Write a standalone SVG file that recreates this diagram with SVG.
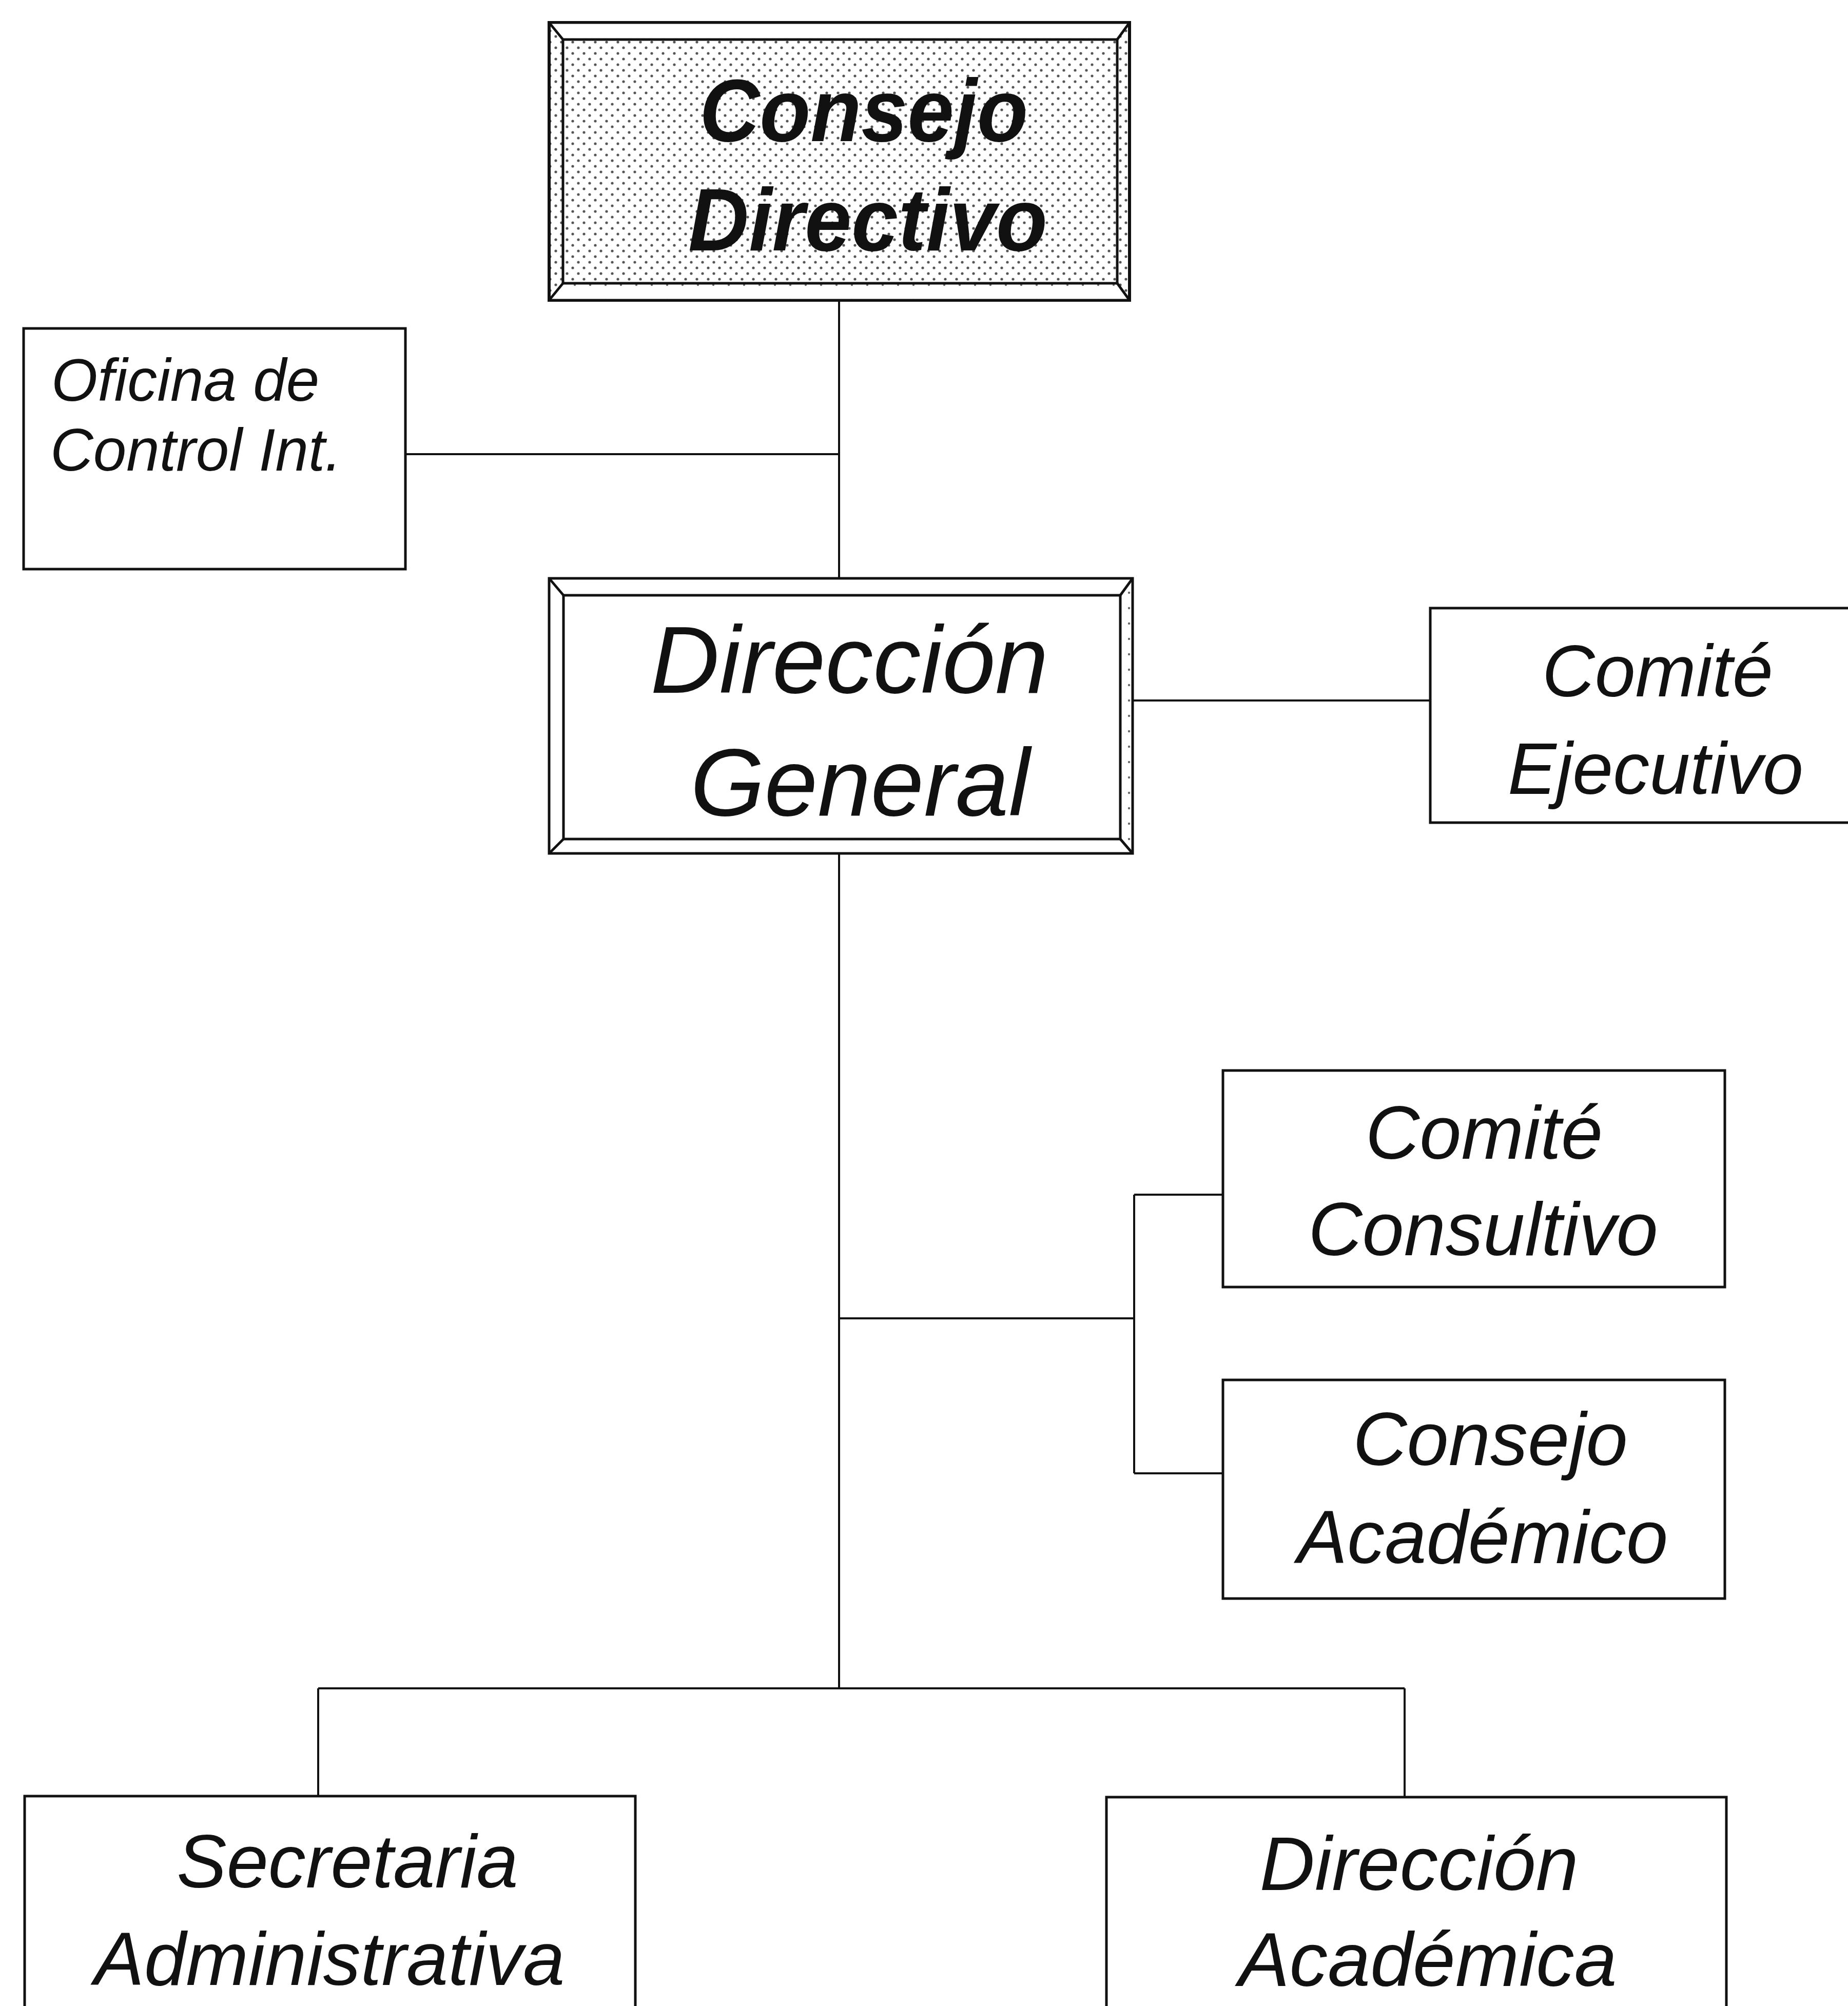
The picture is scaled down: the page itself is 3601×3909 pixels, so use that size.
<svg xmlns="http://www.w3.org/2000/svg" width="3601" height="3909" viewBox="0 0 3601 3909">
<style>
.box{fill:#fff;stroke:#111;stroke-width:5}
.ln{stroke:#111;stroke-width:4;fill:none}
.bev{stroke:#111;stroke-width:5;fill:none}
.t{font-family:"Liberation Sans",Arial,sans-serif;font-style:italic;fill:#111}
.tb{font-family:"Liberation Sans",Arial,sans-serif;font-style:italic;font-weight:bold;fill:#111}
</style>
<defs>
<pattern id="dots" width="22" height="22" patternUnits="userSpaceOnUse">
<rect width="22" height="22" fill="#fff"/>
<circle cx="5" cy="5" r="2.6" fill="#555"/>
<circle cx="16" cy="16" r="2.6" fill="#555"/>
</pattern>
<pattern id="ldots" width="30" height="30" patternUnits="userSpaceOnUse">
<rect width="30" height="30" fill="#fff"/>
<circle cx="10" cy="15" r="2.2" fill="#666"/>
</pattern>
</defs>
<rect width="3601" height="3909" fill="#fff"/>

<g id="connectors">
<line class="ln" x1="1635" y1="585" x2="1635" y2="1127"/>
<line class="ln" x1="790" y1="885" x2="1635" y2="885"/>
<line class="ln" x1="2207" y1="1365" x2="2787" y2="1365"/>
<line class="ln" x1="1635" y1="1663" x2="1635" y2="3290"/>
<line class="ln" x1="1635" y1="2569" x2="2210" y2="2569"/>
<line class="ln" x1="2210" y1="2328" x2="2210" y2="2871"/>
<line class="ln" x1="2210" y1="2328" x2="2383" y2="2328"/>
<line class="ln" x1="2210" y1="2871" x2="2383" y2="2871"/>
<line class="ln" x1="620" y1="3290" x2="2737" y2="3290"/>
<line class="ln" x1="620" y1="3290" x2="620" y2="3500"/>
<line class="ln" x1="2737" y1="3290" x2="2737" y2="3502"/>
</g>

<g id="consejo-directivo">
<rect x="1070" y="44" width="1131" height="541" fill="url(#dots)" stroke="#111" stroke-width="6"/>
<polygon points="1070,44 2201,44 2177,77 1097,77" fill="#fff"/>
<polygon points="1097,552 2177,552 2201,585 1070,585" fill="url(#ldots)"/>
<rect x="1097" y="77" width="1080" height="475" class="bev"/>
<line class="bev" x1="1070" y1="44" x2="1097" y2="77"/>
<line class="bev" x1="2201" y1="44" x2="2177" y2="77"/>
<line class="bev" x1="2201" y1="585" x2="2177" y2="552"/>
<line class="bev" x1="1070" y1="585" x2="1097" y2="552"/>
<rect x="1070" y="44" width="1131" height="541" class="bev" stroke-width="6"/>
<text class="tb" x="1363" y="275" font-size="172" textLength="640" lengthAdjust="spacingAndGlyphs">Consejo</text>
<text class="tb" x="1341" y="488" font-size="172" textLength="700" lengthAdjust="spacingAndGlyphs">Directivo</text>
</g>

<g id="oficina-control">
<rect class="box" x="46" y="640" width="744" height="469"/>
<text class="t" x="100" y="781" font-size="116">Oficina de</text>
<text class="t" x="98" y="917" font-size="116">Control Int.</text>
</g>

<g id="direccion-general">
<rect x="1070" y="1127" width="1137" height="536" fill="#fff"/>
<polygon points="2183,1160 2207,1127 2207,1663 2183,1635" fill="url(#ldots)"/>
<polygon points="1098,1635 2183,1635 2207,1663 1070,1663" fill="url(#ldots)"/>
<rect x="1098" y="1160" width="1085" height="475" class="bev"/>
<line class="bev" x1="1070" y1="1127" x2="1098" y2="1160"/>
<line class="bev" x1="2207" y1="1127" x2="2183" y2="1160"/>
<line class="bev" x1="2207" y1="1663" x2="2183" y2="1635"/>
<line class="bev" x1="1070" y1="1663" x2="1098" y2="1635"/>
<rect x="1070" y="1127" width="1137" height="536" class="bev" stroke-width="6"/>
<text class="t" x="1655" y="1350" font-size="186" text-anchor="middle">Dirección</text>
<text class="t" x="1676" y="1589" font-size="186" text-anchor="middle">General</text>
</g>

<g id="comite-ejecutivo">
<rect class="box" x="2787" y="1185" width="830" height="418"/>
<text class="t" x="3230" y="1357" font-size="142" text-anchor="middle">Comité</text>
<text class="t" x="3226" y="1547" font-size="142" text-anchor="middle">Ejecutivo</text>
</g>

<g id="comite-consultivo">
<rect class="box" x="2383" y="2086" width="978" height="422"/>
<text class="t" x="2892" y="2258" font-size="146" text-anchor="middle">Comité</text>
<text class="t" x="2890" y="2446" font-size="146" text-anchor="middle">Consultivo</text>
</g>

<g id="consejo-academico">
<rect class="box" x="2383" y="2689" width="978" height="426"/>
<text class="t" x="2904" y="2855" font-size="146" text-anchor="middle">Consejo</text>
<text class="t" x="2889" y="3046" font-size="146" text-anchor="middle">Académico</text>
</g>

<g id="secretaria-administrativa">
<rect class="box" x="48" y="3500" width="1190" height="460"/>
<text class="t" x="677" y="3678" font-size="146" text-anchor="middle">Secretaria</text>
<text class="t" x="642" y="3868" font-size="146" text-anchor="middle">Administrativa</text>
</g>

<g id="direccion-academica">
<rect class="box" x="2156" y="3502" width="1208" height="460"/>
<text class="t" x="2765" y="3683" font-size="149" text-anchor="middle">Dirección</text>
<text class="t" x="2782" y="3870" font-size="149" text-anchor="middle">Académica</text>
</g>
</svg>
